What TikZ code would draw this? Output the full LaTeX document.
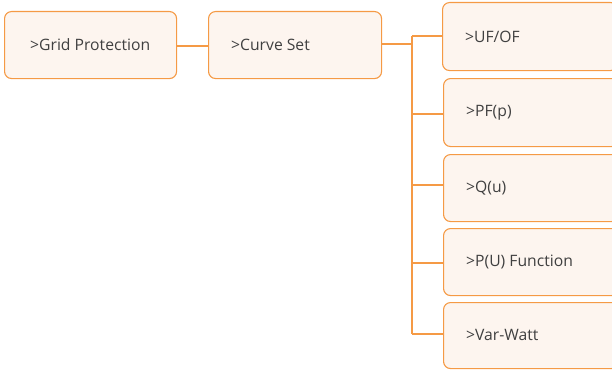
\documentclass[tikz,border=0pt]{standalone}
\usepackage{fontspec}
\setmainfont{Open Sans}
\definecolor{boxline}{HTML}{F59A45}
\definecolor{boxfill}{HTML}{FDF5EF}
\definecolor{txt}{HTML}{404040}
\begin{document}
\begin{tikzpicture}[x=1pt,y=-1pt,
  menubox/.style={draw=boxline, fill=boxfill, line width=1.1pt, rounded corners=7pt, anchor=north west, inner sep=0pt},
  lbl/.style={anchor=west, inner sep=0pt, text=txt, font=\fontsize{15.7}{18}\selectfont},
  conn/.style={draw=boxline, line width=1.1pt}]
\useasboundingbox (0,0) rectangle (612,369);
\node[menubox, minimum width=172pt, minimum height=67pt] (gp) at (4,11) {};
\node[menubox, minimum width=173pt, minimum height=67pt] (cs) at (208,11) {};
\node[lbl] at (30,45) {>Grid Protection};
\node[lbl] at (231,45) {>Curve Set};
\node[menubox, minimum width=175pt, minimum height=68pt] (uf) at (442,2) {};
\node[menubox, minimum width=175pt, minimum height=68pt] (pf) at (443,78) {};
\node[menubox, minimum width=175pt, minimum height=67pt] (qu) at (443,154) {};
\node[menubox, minimum width=175pt, minimum height=67pt] (pu) at (443,228) {};
\node[menubox, minimum width=175pt, minimum height=66pt] (vw) at (443,302) {};
\node[lbl] at (465,37) {>UF/OF};
\node[lbl] at (466,113) {>PF(p)};
\node[lbl] at (466,188) {>Q(u)};
\node[lbl] at (466,262) {>P(U) Function};
\node[lbl] at (466,335) {>Var-Watt};
\coordinate (trunk) at (412,44);
\draw[conn] (gp.east |- 0,46) -- (cs.west |- 0,46);
\draw[conn] (cs.east |- 0,44) -- (trunk);
\draw[conn] (412,36) -- (412,334);
\draw[conn] (412,36) -- (uf.west |- 0,36);
\draw[conn] (412,114) -- (pf.west |- 0,114);
\draw[conn] (412,185) -- (qu.west |- 0,185);
\draw[conn] (412,263) -- (pu.west |- 0,263);
\draw[conn] (412,334) -- (vw.west |- 0,334);
\end{tikzpicture}
\end{document}
